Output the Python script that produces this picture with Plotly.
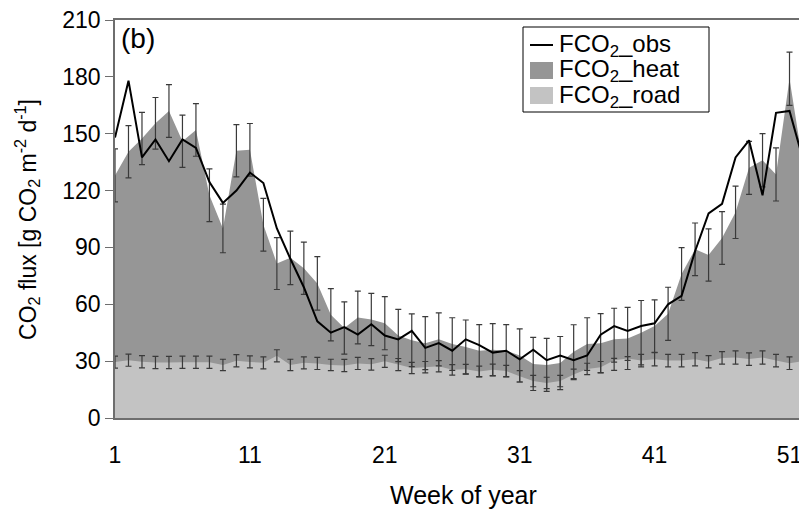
import plotly.graph_objects as go

weeks = list(range(1, 53))

fco2_obs = [148, 178, 137.5, 147, 135.5, 147, 142.5, 124.5, 113.5, 120,
            129.5, 124, 100, 84, 69, 51, 45, 48, 44, 49.5,
            43.5, 41.5, 46, 37, 39.5, 35.5, 41.5, 38.5, 34.5, 35.5,
            31, 36, 30.5, 33, 30.5, 33, 44, 48.5, 46, 48.5,
            50, 60, 64.5, 88, 108, 113, 137.5, 146.5, 117.5, 161,
            162, 136.5]

fco2_heat = [128, 140.5, 147.5, 155.5, 162, 146, 152, 117.5, 100, 141,
             141.5, 102, 81.5, 84.5, 79, 71, 54.5, 47.5, 53, 52,
             50, 43.5, 41, 39.5, 41.5, 39, 37.5, 35.5, 36, 35.5,
             33, 28.5, 28, 29, 35, 39, 39.5, 41.5, 42, 45,
             48.5, 55, 76, 89, 86, 95, 108.5, 132, 136, 128.5,
             179, 134]

heat_err = [14, 13.8, 13.8, 13.6, 13.9, 13.8, 13.9, 13.9, 12.8, 13.8,
            13.9, 13.9, 13.7, 14.1, 13.8, 14.1, 13.8, 13.8, 13.9, 13.8,
            14, 13.8, 13.9, 14, 14, 13.9, 14.2, 13.8, 13.8, 13.8,
            14, 14, 14, 14, 14.2, 13.9, 15.6, 16.4, 16.4, 17,
            13.8, 14, 13.9, 13.9, 13.8, 13.9, 13.8, 14, 14, 14,
            14, 14]

fco2_road = [29.5, 30.5, 29.7, 29.3, 29.3, 29.4, 29.4, 29.4, 28, 30.2,
             29.6, 29.1, 32.8, 28, 29.1, 28.8, 28, 27.7, 28.8, 28.3,
             29.9, 28.2, 26.4, 26.8, 27.3, 25.4, 25.7, 24.6, 25.4, 24.8,
             22, 19.5, 18.5, 19.5, 23, 25.9, 26.8, 30.5, 31.4, 30.3,
             31, 30.3, 30.3, 31, 29.7, 31.7, 31.9, 31.1, 31.9, 30.3,
             28.9, 30]

road_err = [3.2, 3.2, 3.2, 3.2, 3.2, 3.2, 3.2, 3.2, 3.0, 3.2,
            3.2, 3.2, 3.2, 3.0, 3.2, 3.2, 3.0, 3.2, 3.2, 3.0,
            3.2, 3.2, 3.0, 3.0, 3.0, 2.8, 2.6, 2.8, 3.0, 3.0,
            3.0, 3.0, 3.0, 3.0, 2.8, 3.0, 3.0, 1.0, 1.0, 3.3,
            3.5, 3.3, 3.3, 3.5, 3.2, 3.3, 3.5, 3.3, 3.5, 3.3,
            3.3, 3.3]

x_ticks = [1, 11, 21, 31, 41, 51]
y_ticks = [0, 30, 60, 90, 120, 150, 180, 210]
legend_labels = ["FCO<sub>2</sub>_obs", "FCO<sub>2</sub>_heat", "FCO<sub>2</sub>_road"]

FONT = "Liberation Sans, Arial, sans-serif"
DARK = "#969696"
LIGHT = "#c3c3c3"
BAR = "#3a3a3a"
AXIS = "#6e6e6e"

fig = go.Figure()

# filled areas (drawn first)
fig.add_trace(go.Scatter(
    x=weeks, y=fco2_heat, mode="none", fill="tozeroy",
    fillcolor=DARK, name=legend_labels[1], showlegend=False, hoverinfo="skip",
))
fig.add_trace(go.Scatter(
    x=weeks, y=fco2_road, mode="none", fill="tozeroy",
    fillcolor=LIGHT, name=legend_labels[2], showlegend=False, hoverinfo="skip",
))
# error bars
fig.add_trace(go.Scatter(
    x=weeks, y=fco2_heat, mode="markers", marker=dict(size=1, opacity=0),
    error_y=dict(type="data", array=heat_err, visible=True,
                 color=BAR, thickness=1.2, width=3),
    showlegend=False, hoverinfo="skip",
))
fig.add_trace(go.Scatter(
    x=weeks, y=fco2_road, mode="markers", marker=dict(size=1, opacity=0),
    error_y=dict(type="data", array=road_err, visible=True,
                 color=BAR, thickness=1.2, width=3),
    showlegend=False, hoverinfo="skip",
))
# observed line
fig.add_trace(go.Scatter(
    x=weeks, y=fco2_obs, mode="lines",
    line=dict(color="black", width=2),
    name=legend_labels[0], showlegend=False,
))

# ---- legend box drawn in paper coordinates (tight line spacing like the original)
def fx(px):  # window pixel -> paper x (plot area 115..803)
    return (px - 115) / 688.0

def fy(py):  # window pixel -> paper y (plot area 418..20)
    return (418 - py) / 398.0

shapes = [
    dict(type="rect", xref="paper", yref="paper",
         x0=fx(523), x1=fx(709), y0=fy(112), y1=fy(27),
         line=dict(color="black", width=1), fillcolor="white", layer="above"),
    dict(type="line", xref="paper", yref="paper",
         x0=fx(530), x1=fx(553), y0=fy(45), y1=fy(45),
         line=dict(color="black", width=2), layer="above"),
    dict(type="rect", xref="paper", yref="paper",
         x0=fx(530), x1=fx(553), y0=fy(79), y1=fy(62),
         line=dict(width=0), fillcolor=DARK, layer="above"),
    dict(type="rect", xref="paper", yref="paper",
         x0=fx(530), x1=fx(553), y0=fy(104), y1=fy(87),
         line=dict(width=0), fillcolor=LIGHT, layer="above"),
]
legend_y = [45, 70.5, 96]
annotations = [
    dict(text=lab, xref="paper", yref="paper", x=fx(557), y=fy(py),
         xanchor="left", yanchor="middle", showarrow=False,
         font=dict(family=FONT, size=24, color="black"))
    for lab, py in zip(legend_labels, legend_y)
]
annotations += [
    dict(text="(b)", xref="paper", yref="paper", x=0.006, y=0.997,
         xanchor="left", yanchor="top", showarrow=False,
         font=dict(family=FONT, size=28, color="black")),
    dict(text="Week of year", xref="paper", yref="paper",
         x=0.507, y=-0.193, xanchor="center", yanchor="middle",
         showarrow=False, font=dict(family=FONT, size=25, color="black")),
    dict(text="CO<sub>2</sub> flux [g CO<sub>2</sub> m<sup>-2</sup> d<sup>-1</sup>]",
         xref="paper", yref="paper", x=-0.128, y=0.5,
         xanchor="center", yanchor="middle", textangle=-90,
         showarrow=False, font=dict(family=FONT, size=23, color="black")),
]

# the page adds an 8px body margin, so the figure is 8px smaller than the window
fig.update_layout(
    width=799, height=504,
    margin=dict(l=107, r=4, t=12, b=94),
    paper_bgcolor="white", plot_bgcolor="white",
    font=dict(family=FONT, size=23, color="black"),
    showlegend=False,
    shapes=shapes,
    annotations=annotations,
)

fig.update_xaxes(
    range=[1, 52], tickvals=x_ticks, ticktext=[str(t) for t in x_ticks],
    showgrid=False, zeroline=False, showline=True, linecolor=AXIS,
    linewidth=1.5, mirror=True, ticks="outside", ticklen=16,
    tickcolor="rgba(0,0,0,0)", automargin=False, ticklabeloverflow="allow",
)
fig.update_yaxes(
    range=[0, 210], tickvals=y_ticks, ticktext=[str(t) for t in y_ticks],
    showgrid=False, zeroline=False, showline=True, linecolor=AXIS,
    linewidth=1.5, mirror=True, ticks="outside", ticklen=8,
    tickcolor=AXIS, automargin=False, ticklabeloverflow="allow",
)

fig.write_html("out.html")
